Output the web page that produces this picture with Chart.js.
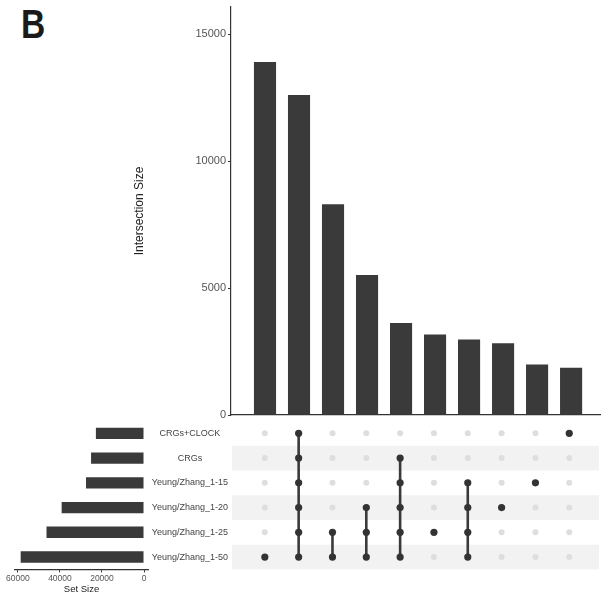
<!DOCTYPE html>
<html>
<head>
<meta charset="utf-8">
<script src="https://cdn.jsdelivr.net/npm/chart.js@4"></script>
<style>
  body { margin: 0; background: #fff; }
  #wrap { position: relative; width: 602px; height: 596px; overflow: hidden; font-family: 'Liberation Sans', Arial, sans-serif; }
  canvas { position: absolute; }
  #panel { position: absolute; left: 21px; top: 2px; font-size: 40px; font-weight: bold; color: #1a1a1a; transform: scaleX(0.84); transform-origin: left top; }
</style>
</head>
<body>
<div id="wrap">
  <div id="panel">B</div>
  <canvas id="barsChart" width="470" height="420" style="left:132px;top:0px"></canvas>
  <canvas id="matrixChart" width="454" height="158" style="left:148px;top:416px"></canvas>
  <canvas id="setChart" width="150" height="179" style="left:0px;top:416px"></canvas>
</div>
<script>
// sets, de abajo hacia arriba
const setNames = ['Yeung/Zhang_1-50', 'Yeung/Zhang_1-25', 'Yeung/Zhang_1-20', 'Yeung/Zhang_1-15', 'CRGs', 'CRGs+CLOCK'];
const setSizes = [58700, 46400, 39200, 27600, 25200, 22900];

// intersecciones (orden del gráfico)
const intersectionSizes = [13900, 12600, 8300, 5510, 3620, 3170, 2970, 2830, 1990, 1860];
const intersectionSets = [
    ['Yeung/Zhang_1-50'],
    ['Yeung/Zhang_1-50', 'Yeung/Zhang_1-25', 'Yeung/Zhang_1-20', 'Yeung/Zhang_1-15', 'CRGs', 'CRGs+CLOCK'],
    ['Yeung/Zhang_1-50', 'Yeung/Zhang_1-25'],
    ['Yeung/Zhang_1-50', 'Yeung/Zhang_1-25', 'Yeung/Zhang_1-20'],
    ['Yeung/Zhang_1-50', 'Yeung/Zhang_1-25', 'Yeung/Zhang_1-20', 'Yeung/Zhang_1-15', 'CRGs'],
    ['Yeung/Zhang_1-25'],
    ['Yeung/Zhang_1-50', 'Yeung/Zhang_1-25', 'Yeung/Zhang_1-20', 'Yeung/Zhang_1-15'],
    ['Yeung/Zhang_1-20'],
    ['Yeung/Zhang_1-15'],
    ['CRGs+CLOCK']
];

const sizeTicks = [0, 5000, 10000, 15000];
const setSizeTicks = [0, 20000, 40000, 60000];

const FONT = "'Liberation Sans', Arial, sans-serif";
const BAR_COLOR = '#3a3a3a';
const AXIS_COLOR = '#333';

const xMax = 10.85;
const rowOf = name => setNames.indexOf(name) + 1;

// quitar el relleno extra que Chart.js reserva para las etiquetas
function noOverflow(s) {
    s.paddingTop = 0;
    s.paddingBottom = 0;
    s.paddingLeft = 0;
    s.paddingRight = 0;
}

// Gráfico de tamaños de intersección
new Chart(document.getElementById('barsChart'), {
    type: 'bar',
    data: {
        datasets: [{
            data: intersectionSizes.map((v, i) => ({ x: i + 1, y: v })),
            backgroundColor: BAR_COLOR,
            barPercentage: 0.65,
            categoryPercentage: 1
        }]
    },
    options: {
        responsive: false,
        animation: false,
        layout: { padding: { top: 7, right: 2, bottom: 5, left: 0 } },
        plugins: { legend: { display: false }, tooltip: { enabled: false } },
        scales: {
            x: {
                type: 'linear', min: 0, max: xMax, offset: false,
                ticks: { display: false },
                grid: { display: false },
                border: { color: AXIS_COLOR, width: 1.2 },
                afterFit: s => { s.height = 0; noOverflow(s); }
            },
            y: {
                min: 0, max: 16070,
                afterBuildTicks: s => { s.ticks = sizeTicks.map(v => ({ value: v })); },
                ticks: { color: '#555', font: { family: FONT, size: 11 }, padding: 2, callback: v => String(v) },
                grid: { drawOnChartArea: false, tickLength: 3, color: AXIS_COLOR },
                border: { color: AXIS_COLOR, width: 1.2 },
                title: { display: true, text: 'Intersection Size', color: '#222', font: { family: FONT, size: 12 }, padding: 0 },
                afterFit: s => { s.width = 99; noOverflow(s); }
            }
        }
    }
});

// Matriz de puntos
const inactive = [], active = [], lines = [];
intersectionSets.forEach((sets, i) => {
    const rows = sets.map(rowOf);
    setNames.forEach((n, j) => {
        const p = { x: i + 1, y: j + 1 };
        if (rows.includes(j + 1)) active.push(p); else inactive.push(p);
    });
    if (rows.length > 1) {
        lines.push({
            type: 'line',
            data: [{ x: i + 1, y: Math.min(...rows) }, { x: i + 1, y: Math.max(...rows) }],
            borderColor: '#3a3a3a', borderWidth: 2.6, pointRadius: 0, order: 1
        });
    }
});

const stripes = {
    id: 'stripes',
    beforeDatasetsDraw(chart) {
        const { ctx, chartArea, scales: { y } } = chart;
        ctx.save();
        ctx.fillStyle = '#f2f2f2';
        setNames.forEach((n, j) => {
            if (j % 2 !== 0) return;
            const top = y.getPixelForValue(j + 1.5);
            const bottom = y.getPixelForValue(j + 0.5);
            ctx.fillRect(chartArea.left + 1, top, chartArea.right - chartArea.left, bottom - top);
        });
        ctx.restore();
    }
};

new Chart(document.getElementById('matrixChart'), {
    type: 'scatter',
    data: {
        datasets: [
            { data: inactive, backgroundColor: '#dedede', pointRadius: 3, borderWidth: 0, order: 2 },
            ...lines,
            { data: active, backgroundColor: '#333', pointRadius: 3.6, borderWidth: 0, order: 0 }
        ]
    },
    options: {
        responsive: false,
        animation: false,
        layout: { padding: { top: 5, right: 2, bottom: 4.6, left: 0 } },
        plugins: { legend: { display: false }, tooltip: { enabled: false } },
        scales: {
            x: { type: 'linear', min: 0, max: xMax, display: false },
            y: {
                type: 'linear', min: 0.5, max: 6.5,
                afterBuildTicks: s => { s.ticks = setNames.map((n, j) => ({ value: j + 1 })); },
                ticks: { color: '#444', font: { family: FONT, size: 9 }, crossAlign: 'center', padding: 3,
                         callback: v => setNames[v - 1] },
                grid: { display: false, drawTicks: false },
                border: { display: false },
                afterFit: s => { s.width = 83; noOverflow(s); }
            }
        }
    },
    plugins: [stripes]
});

// Tamaño de los sets
new Chart(document.getElementById('setChart'), {
    type: 'bar',
    data: {
        datasets: [{
            data: setSizes.map((v, j) => ({ x: v, y: j + 1 })),
            backgroundColor: BAR_COLOR,
            barPercentage: 0.46,
            categoryPercentage: 1
        }]
    },
    options: {
        indexAxis: 'y',
        responsive: false,
        animation: false,
        layout: { padding: { top: 5, right: 2, bottom: 0, left: 15 } },
        plugins: { legend: { display: false }, tooltip: { enabled: false } },
        scales: {
            y: { type: 'linear', min: 0.5, max: 6.5, offset: false, display: false },
            x: {
                type: 'linear', min: -1900, max: 61400, reverse: true,
                afterBuildTicks: s => { s.ticks = setSizeTicks.map(v => ({ value: v })); },
                ticks: { color: '#555', font: { family: FONT, size: 8.5 }, padding: 1, maxRotation: 0, callback: v => String(v) },
                grid: { drawOnChartArea: false, tickLength: 3, color: AXIS_COLOR },
                border: { color: AXIS_COLOR, width: 1.2 },
                title: { display: true, text: 'Set Size', color: '#222', font: { family: FONT, size: 9.5 }, padding: 0 },
                afterFit: s => { s.height = 25.6; noOverflow(s); }
            }
        }
    }
});
</script>
</body>
</html>
